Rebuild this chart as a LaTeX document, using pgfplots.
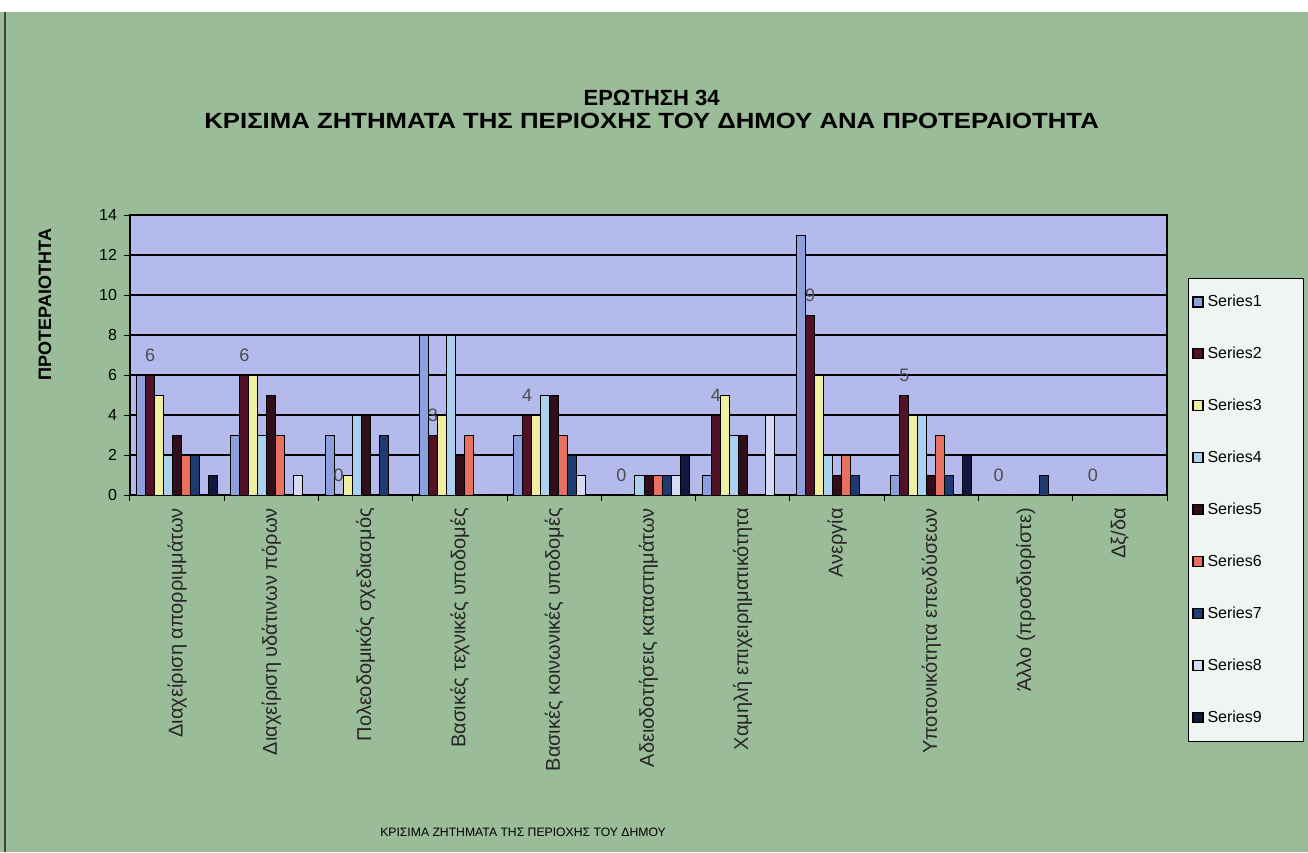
\documentclass[border=0pt]{standalone}
\usepackage{fontspec}
\setmainfont{Liberation Sans}
\usepackage{graphicx}
\usepackage{pgfplots}
\usepackage{pgfplotstable}
\pgfplotsset{compat=1.18}

\definecolor{bggreen}{RGB}{154,188,152}
\definecolor{plotbg}{RGB}{180,186,236}
\definecolor{legbg}{RGB}{240,245,242}
\definecolor{cS1}{RGB}{140,160,222}
\definecolor{cS2}{RGB}{80,18,36}
\definecolor{cS3}{RGB}{240,238,160}
\definecolor{cS4}{RGB}{172,208,240}
\definecolor{cS5}{RGB}{48,14,26}
\definecolor{cS6}{RGB}{232,112,96}
\definecolor{cS7}{RGB}{30,58,110}
\definecolor{cS8}{RGB}{214,218,244}
\definecolor{cS9}{RGB}{16,24,64}

\pgfplotstableread{
cat S1 S2 S3 S4 S5 S6 S7 S8 S9
0  6  6  5  2  3  2  2  0  1
1  3  6  6  3  5  3  0  1  0
2  3  0  1  4  4  0  3  0  0
3  8  3  4  8  2  3  0  0  0
4  3  4  4  5  5  3  2  1  0
5  0  0  0  1  1  1  1  1  2
6  1  4  5  3  3  0  0  4  0
7  13 9  6  2  1  2  1  0  0
8  1  5  4  4  1  3  1  0  2
9  0  0  0  0  0  0  1  0  0
10 0  0  0  0  0  0  0  0  0
}\data

\newcommand{\legent}[1]{\makebox[44pt][l]{#1}}

\begin{document}
\begin{tikzpicture}
\fill[bggreen] (0pt,0pt) rectangle (654pt,420pt);
\fill[white] (0pt,420pt) rectangle (654pt,426pt);
\draw[black!75, line width=0.8pt] (2.5pt,0pt) -- (2.5pt,420pt);
\begin{axis}[
  at={(65pt,178.5pt)}, anchor=south west,
  width=518.5pt, height=140pt, scale only axis,
  axis background/.style={fill=plotbg},
  ybar=0pt, bar width=0.0955,
  xmin=-0.5, xmax=10.5, ymin=0, ymax=14,
  ytick={0,2,...,14},
  xtick={0,...,10},
  major x tick style={draw=none},
  minor xtick={-0.5,0.5,...,10.5},
  minor tick length=3pt, major tick length=3pt,
  tick align=outside,
  xtick pos=bottom, ytick pos=left,
  tick style={black, line width=0.5pt},
  ymajorgrids, major grid style={black, line width=0.8pt},
  axis line style={black, line width=0.7pt},
  xticklabels={Διαχείριση απορριμμάτων, Διαχείριση υδάτινων πόρων, Πολεοδομικός σχεδιασμός, Βασικές τεχνικές υποδομές, Βασικές κοινωνικές υποδομές, Αδειοδοτήσεις καταστημάτων, Χαμηλή επιχειρηματικότητα, Ανεργία, Υποτονικότητα επενδύσεων, Άλλο (προσδιορίστε), Δξ/δα},
  x tick label style={rotate=90, anchor=east, font=\fontsize{10}{11}\selectfont, text=black!85},
  y tick label style={font=\fontsize{8}{9}\selectfont},
  /pgf/number format/assume math mode=true,
  ylabel={ΠΡΟΤΕΡΑΙΟΤΗΤΑ},
  every axis y label/.style={at={(axis description cs:-0.082,0.68)}, rotate=90, anchor=center, font=\bfseries\fontsize{9}{10}\selectfont},
  xlabel={ΚΡΙΣΙΜΑ ΖΗΤΗΜΑΤΑ ΤΗΣ ΠΕΡΙΟΧΗΣ ΤΟΥ ΔΗΜΟΥ},
  every axis x label/.style={at={(axis description cs:0.379,-1.204)}, anchor=center, font=\fontsize{6.1}{7}\selectfont},
  title={ΕΡΩΤΗΣΗ 34\\\scalebox{1.17}[1]{ΚΡΙΣΙΜΑ ΖΗΤΗΜΑΤΑ ΤΗΣ ΠΕΡΙΟΧΗΣ ΤΟΥ ΔΗΜΟΥ ΑΝΑ ΠΡΟΤΕΡΑΙΟΤΗΤΑ}},
  title style={at={(axis description cs:0.503,1.333)}, anchor=center, align=center, font=\bfseries\fontsize{11}{11.5}\selectfont},
  legend style={at={(1.02,0.775)}, anchor=north west, fill=legbg, draw=black, line width=0.6pt,
    font=\fontsize{8}{9}\selectfont, row sep=14.7pt, inner ysep=6pt, inner xsep=2pt, cells={anchor=west}},
  legend image code/.code={\draw[#1, line width=0.6pt] (0pt,-2.5pt) rectangle (5pt,2.5pt);},
  every axis plot/.append style={draw=black, line width=0.5pt},
]
\addplot[fill=cS1] table[x=cat,y=S1]{\data};
\addplot[fill=cS2, nodes near coords, every node near coord/.append style={font=\fontsize{9}{9}\selectfont, text=black!70, yshift=3pt}] table[x=cat,y=S2]{\data};
\addplot[fill=cS3] table[x=cat,y=S3]{\data};
\addplot[fill=cS4] table[x=cat,y=S4]{\data};
\addplot[fill=cS5] table[x=cat,y=S5]{\data};
\addplot[fill=cS6] table[x=cat,y=S6]{\data};
\addplot[fill=cS7] table[x=cat,y=S7]{\data};
\addplot[fill=cS8] table[x=cat,y=S8]{\data};
\addplot[fill=cS9] table[x=cat,y=S9]{\data};
\legend{\legent{Series1},\legent{Series2},\legent{Series3},\legent{Series4},\legent{Series5},\legent{Series6},\legent{Series7},\legent{Series8},\legent{Series9}}
\end{axis}
\end{tikzpicture}
\end{document}
